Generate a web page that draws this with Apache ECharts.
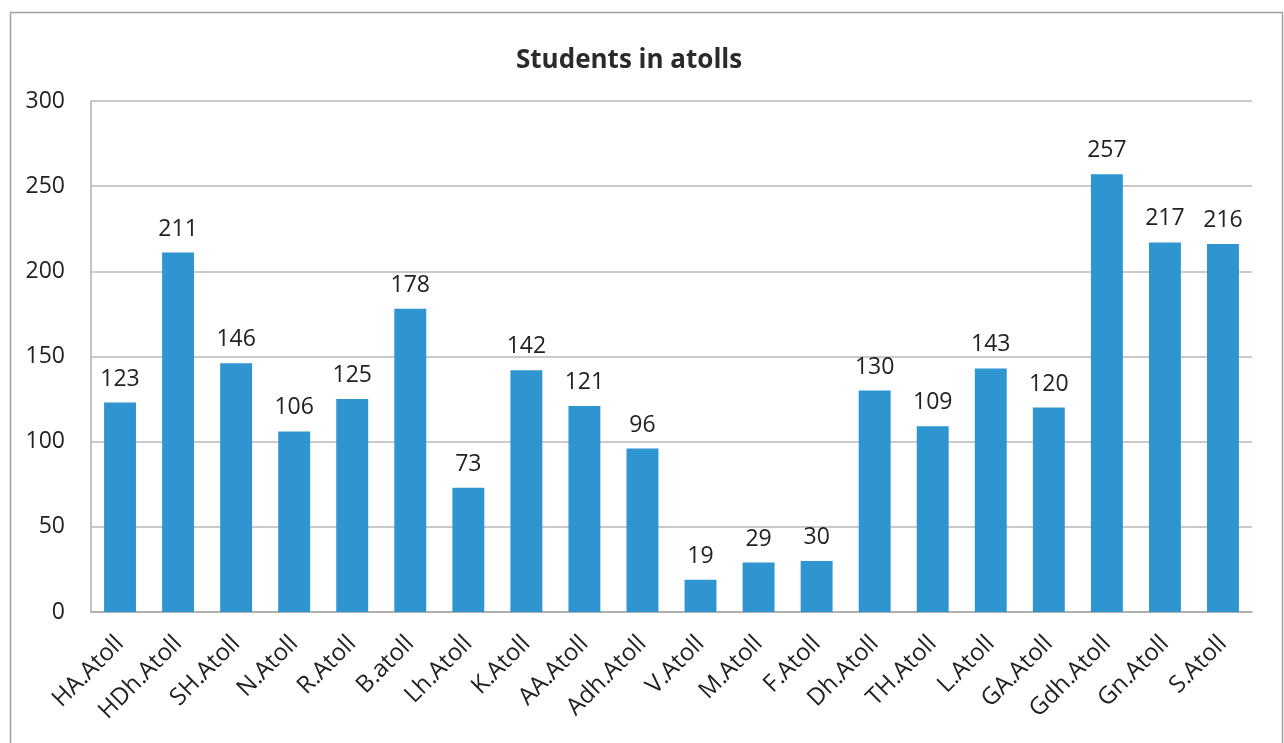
<!DOCTYPE html>
<html>
<head>
<meta charset="utf-8">
<script src="https://cdn.jsdelivr.net/npm/echarts@6/dist/echarts.min.js"></script>
<style>
html,body{margin:0;padding:0;background:#fff;}
#chart{width:1284px;height:743px;}
</style>
</head>
<body>
<div id="chart"></div>
<script>
const categories = ["HA.Atoll","HDh.Atoll","SH.Atoll","N.Atoll","R.Atoll","B.atoll","Lh.Atoll","K.Atoll","AA.Atoll","Adh.Atoll","V.Atoll","M.Atoll","F.Atoll","Dh.Atoll","TH.Atoll","L.Atoll","GA.Atoll","Gdh.Atoll","Gn.Atoll","S.Atoll"];
const students = [123,211,146,106,125,178,73,142,121,96,19,29,30,130,109,143,120,257,217,216];
const yTicks = {min:0, max:300, interval:50};

const font = "'Open Sans', 'Noto Sans', sans-serif";
const chart = echarts.init(document.getElementById('chart'));
chart.setOption({
  animation:false,
  backgroundColor:'#fff',
  graphic:[{
    type:'rect', left:8, top:10,
    shape:{width:1272, height:740},
    style:{fill:'none', stroke:'#a0a0a0', lineWidth:1.5}
  }],
  title:{
    text:'Students in atolls', left:511, top:43,
    textStyle:{fontFamily:font, fontSize:26, fontWeight:'bold', color:'#2a2a2a'}
  },
  grid:{left:91, right:32, top:101, bottom:131},
  xAxis:{
    type:'category', data:categories,
    axisLine:{lineStyle:{color:'#a8a8a8', width:1.5}},
    axisTick:{show:false},
    axisLabel:{rotate:45, interval:0, fontFamily:font, fontSize:24, color:'#222', margin:28}
  },
  yAxis:{
    type:'value', min:yTicks.min, max:yTicks.max, interval:yTicks.interval,
    axisLine:{show:true, lineStyle:{color:'#b0b0b0', width:1.5}},
    axisTick:{show:false},
    splitLine:{lineStyle:{color:'#b8b8b8', width:1.5}},
    axisLabel:{fontFamily:font, fontSize:23, color:'#222', margin:26}
  },
  series:[{
    type:'bar', data:students, barWidth:'55%',
    itemStyle:{color:'#2f95d1'},
    label:{show:true, position:'top', distance:12, fontFamily:font, fontSize:23, color:'#222'}
  }]
});
</script>
</body>
</html>
